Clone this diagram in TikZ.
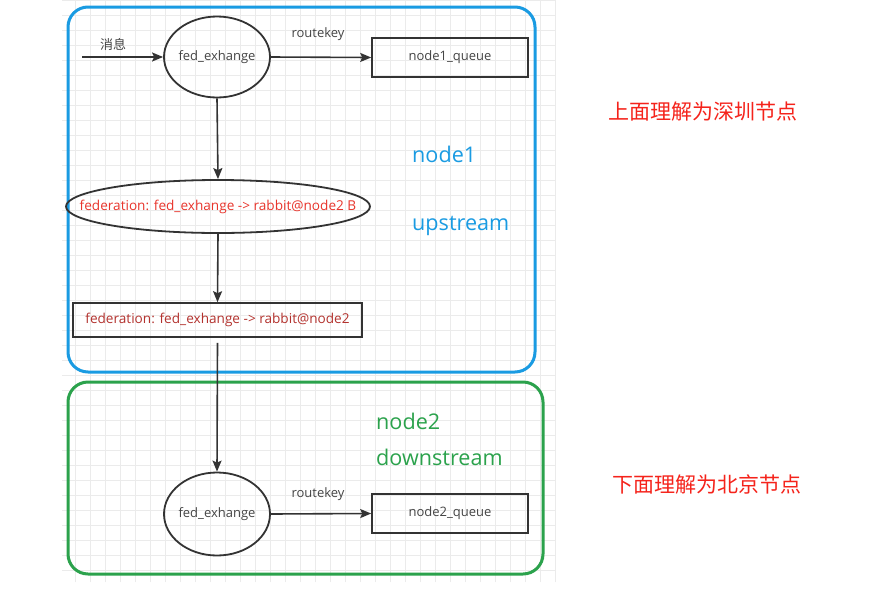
\documentclass[tikz,border=0pt]{standalone}
\usepackage{fontspec}
\setmainfont{Open Sans}
\newfontfamily\cjk{Noto Sans CJK SC}
\usetikzlibrary{arrows.meta,shapes.geometric}
\definecolor{lineclr}{HTML}{333333}
\definecolor{txtclr}{HTML}{444444}
\definecolor{blueclr}{HTML}{1A9BE2}
\definecolor{greenclr}{HTML}{2BA24C}
\definecolor{redA}{HTML}{E8352C}
\definecolor{redB}{HTML}{B3322E}
\definecolor{redC}{HTML}{F5231B}
\definecolor{gridclr}{HTML}{EBEBEB}
\newcommand{\zw}[1]{\makebox[0pt][c]{#1}}
\tikzset{
  ell/.style={ellipse, draw=lineclr, line width=1.8pt, inner sep=0pt, text=txtclr, font=\fontsize{13}{15}\selectfont},
  qbox/.style={rectangle, draw=lineclr, line width=1.6pt, inner sep=0pt, text=txtclr, font=\fontsize{13}{15}\selectfont},
  conn/.style={draw=lineclr, line width=1.6pt, -{Stealth[length=11pt,width=9pt,inset=2pt]}},
  lbl/.style={text=txtclr, font=\fontsize{13}{15}\selectfont, inner sep=0pt},
  big/.style={font=\fontsize{21.6}{26}\selectfont, inner sep=0pt, anchor=west},
  cjklbl/.style={text=redC, font=\cjk\fontsize{21}{25}\selectfont, inner sep=0pt}
}
\begin{document}
\begin{tikzpicture}[x=1pt,y=-1pt]
\useasboundingbox (0,0) rectangle (884,595);
\fill[white] (0,0) rectangle (884,595);
% grid
\draw[gridclr, line width=0.6pt] (62,0) grid[step=15pt] (556,582);
% group boxes
\draw[blueclr, line width=3pt, rounded corners=20pt] (68,7) rectangle (535,372);
\draw[greenclr, line width=3pt, rounded corners=20pt] (68,382) rectangle (543,574);
% nodes
\coordinate (in) at (82,57);
\node[lbl] (msg) at (113,44) {\cjk 消息};
\node[ell, minimum width=106pt, minimum height=81pt] (ex1) at (217,57) {\zw{fed\_exhange}};
\node[qbox, minimum width=156pt, minimum height=39pt] (q1) at (450,57.5) {node1\_queue};
\node[lbl] (rk1) at (318,34) {routekey};
\node[ell, minimum width=304pt, minimum height=53pt, text=redA, font=\fontsize{13.6}{16}\selectfont] (fed1) at (218,206.5) {\zw{federation: fed\_exhange -> rabbit@node2 B}};
\node[qbox, minimum width=289pt, minimum height=34pt, text=redB, font=\fontsize{13.6}{16}\selectfont] (fed2) at (217.5,320) {\zw{federation: fed\_exhange -> rabbit@node2}};
\node[ell, minimum width=106pt, minimum height=83pt] (ex2) at (217,514) {\zw{fed\_exhange}};
\node[qbox, minimum width=156pt, minimum height=39pt] (q2) at (450,513.5) {node2\_queue};
\node[lbl] (rk2) at (318,494) {routekey};
% labels
\node[big, text=blueclr] (n1) at (412,154) {node1};
\node[big, text=blueclr] (up) at (412,226) {upstream};
\node[big, text=greenclr] (n2) at (376,421) {node2};
\node[big, text=greenclr] (down) at (376,457) {downstream};
\node[cjklbl] (sz) at (703,112) {上面理解为深圳节点};
\node[cjklbl] (bj) at (707,484) {下面理解为北京节点};
% connectors
\draw[conn] (in) -- (ex1.west);
\draw[conn] (ex1.east) -- (q1.west);
\draw[conn] (ex1.south) -- (fed1.north);
\draw[conn] (fed1.south) -- (fed2.north);
\draw[conn] ([yshift=-5pt]fed2.south) -- (ex2.north);
\draw[conn] (ex2.east) -- (q2.west);
\end{tikzpicture}
\end{document}
